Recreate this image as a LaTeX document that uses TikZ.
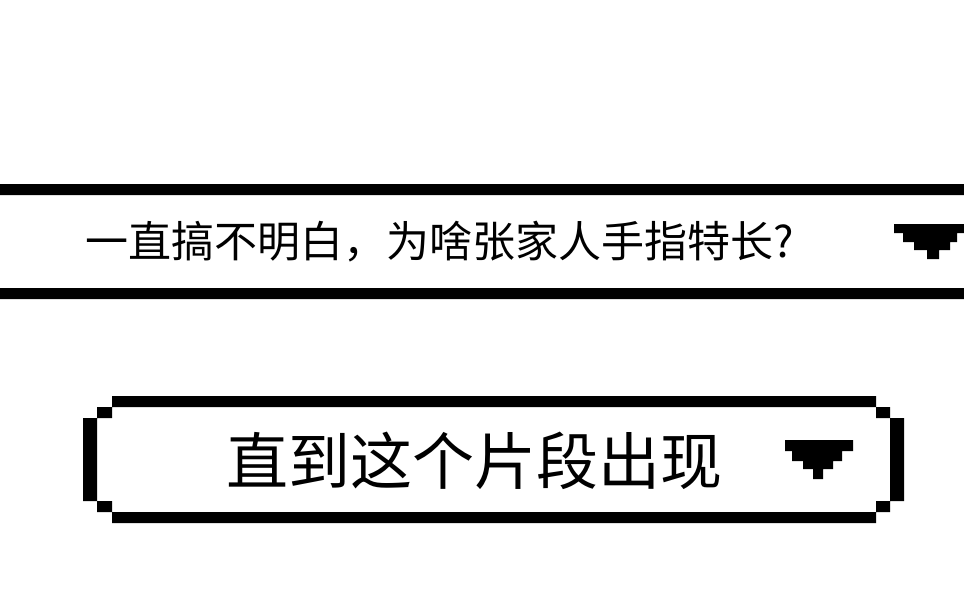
\documentclass[tikz,border=0pt]{standalone}
\usepackage{fontspec}
\newfontfamily\cjk{Noto Sans CJK SC}
\usetikzlibrary{positioning}

\begin{document}
\begin{tikzpicture}[x=1pt, y=-1pt, pix/.style = {fill=black}, line/.style = {inner sep=0pt, anchor=base, font=\cjk}]
    \useasboundingbox (0,0) rectangle (964,602);
    \node[line, font=\cjk\fontsize{43}{50}\selectfont] (Q) at (440,257) {一直搞不明白，为啥张家人手指特长?};
    \node[line, font=\cjk\fontsize{62}{70}\selectfont] (A) at (474,484) {直到这个片段出现};
    \path[pix] (0,184) rectangle (964,195)
               (0,288) rectangle (964,299);
    \path[pix] (894,224) rectangle (964,233)
               (903,233) rectangle (957,242)
               (914,242) rectangle (950,250)
               (927,250) rectangle (939,259);
    \path[pix] (112,396) rectangle (876,407)
               (112,512) rectangle (876,523)
               (83,418) rectangle (97,501)
               (890,418) rectangle (904,501)
               (97,407) rectangle (112,418)
               (876,407) rectangle (890,418)
               (97,501) rectangle (112,512)
               (876,501) rectangle (890,512);
    \path[pix] (785,440) rectangle (853,451)
               (792,451) rectangle (842,461)
               (803,461) rectangle (833,469)
               (813,469) rectangle (823,479);
  \end{tikzpicture}
\end{document}
